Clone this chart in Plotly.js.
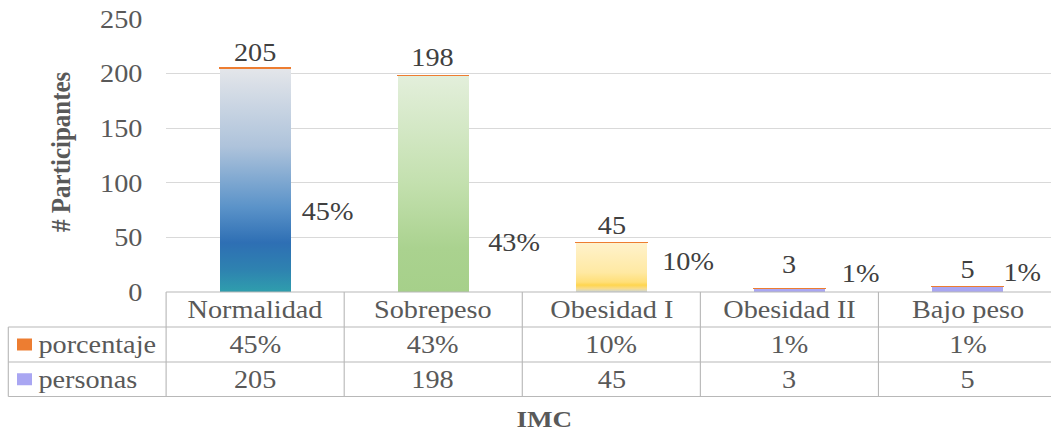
<!DOCTYPE html>
<html>
<head>
<meta charset="utf-8">
<script src="https://cdn.plot.ly/plotly-3.0.1.min.js"></script>
<style>
  html, body { margin: 0; padding: 0; overflow: hidden; background: #fff; }
  #wrap { width: 1051px; height: 434px; overflow: hidden; }
  /* the chart is laid out narrower and stretched sideways to get the wide serif look */
  #chart { width: 935px; height: 434px; transform: scaleX(1.13); transform-origin: 0 0; }
</style>
</head>
<body>
<div id="wrap"><div id="chart"></div></div>
<script>
// ---- data ----
const categories = ['Normalidad', 'Sobrepeso', 'Obesidad I', 'Obesidad II', 'Bajo peso'];
const personas   = [205, 198, 45, 3, 5];
const porcentaje = [0.45, 0.43, 0.10, 0.01, 0.01];
const yTicks     = [0, 50, 100, 150, 200, 250];
const seriesNames = ['porcentaje', 'personas'];

// ---- look ----
const FAMILY = 'Liberation Serif';
const GREY = '#595959';
const DARK = '#404040';
const LINE = '#b8b8b8';
const ORANGE = '#ed7d31';
const LAVENDER = '#a9a6f2';
const font = (size, color, weight) => ({ family: FAMILY, size: size, color: color, weight: weight || 'normal' });

// vertical gradients for each column (offset, colour), top to bottom
const barFills = [
  [[0, '#e4e6ea'], [0.35, '#aec3db'], [0.62, '#5b93c9'], [0.78, '#2e6fb4'], [0.9, '#2e82b0'], [1, '#2f9ead']],
  [[0, '#e3efdb'], [0.5, '#c3e0ae'], [0.8, '#aad28f'], [1, '#a6d08a']],
  [[0, '#fff2cc'], [0.6, '#ffe9a3'], [0.8, '#ffdf78'], [0.86, '#ffd54f'], [0.93, '#f8dc8a'], [1, '#c9d5dc']],
  [[0, LAVENDER], [1, LAVENDER]],
  [[0, LAVENDER], [1, LAVENDER]]
];

// where the percentage labels sit: offset from the column centre (category units) and height (axis units)
const pctLabelAt = [
  { dx: 0.407, y: 74 },
  { dx: 0.457, y: 45 },
  { dx: 0.429, y: 27.5 },
  { dx: 0.401, y: 17.4 },
  { dx: 0.306, y: 18.3 }
];
const countLabelShift = [0, 2, 2, 9, 2];

// ---- geometry ----
const W = 935, H = 434;
const M = { l: 147, r: 0, t: 19, b: 142 };
const plotW = W - M.l - M.r, plotH = H - M.t - M.b;
const sx = 1.13; // horizontal stretch applied by CSS
const px = x => (x / sx - M.l) / plotW;     // page x -> paper x
const py = y => (H - M.b - y) / plotH;      // page y -> paper y

const rowsY = [292, 327, 362, 396.5];       // table row borders (page y)
const tableLeft = 8.3;

const pct = v => Math.round(v * 100) + '%';

const traces = [
  {
    type: 'bar', name: seriesNames[1], x: categories, y: personas,
    marker: { color: LAVENDER, line: { width: 0 } }, width: 0.4, hoverinfo: 'skip'
  },
  {
    type: 'bar', name: seriesNames[0], x: categories, y: porcentaje,
    marker: { color: ORANGE, line: { color: ORANGE, width: 1 } }, width: 0.4, hoverinfo: 'skip'
  }
];

const shapes = [];
const annotations = [];

// table horizontal lines
shapes.push({ type: 'line', xref: 'paper', yref: 'paper', x0: 0, x1: 1.02, y0: py(rowsY[0]), y1: py(rowsY[0]), line: { color: LINE, width: 1 } });
for (let r = 1; r < rowsY.length; r++) {
  shapes.push({ type: 'line', xref: 'paper', yref: 'paper', x0: px(tableLeft), x1: 1.02, y0: py(rowsY[r]), y1: py(rowsY[r]), line: { color: LINE, width: 1 } });
}
// table vertical lines
shapes.push({ type: 'line', xref: 'paper', yref: 'paper', x0: px(tableLeft), x1: px(tableLeft), y0: py(rowsY[1]), y1: py(rowsY[3]), line: { color: LINE, width: 1 } });
shapes.push({ type: 'line', xref: 'paper', yref: 'paper', x0: 0, x1: 0, y0: py(rowsY[0]), y1: py(rowsY[3]), line: { color: LINE, width: 1 } });
categories.forEach((c, i) => {
  shapes.push({ type: 'line', xref: 'x', yref: 'paper', x0: i + 0.5, x1: i + 0.5, y0: py(rowsY[0]), y1: py(rowsY[3]), line: { color: LINE, width: 1 } });
});

const rowMid = r => py((rowsY[r] + rowsY[r + 1]) / 2);

categories.forEach((c, i) => {
  annotations.push({ xref: 'x', yref: 'paper', x: i, y: rowMid(0), text: c, showarrow: false, font: font(25, GREY), xanchor: 'center', yanchor: 'middle' });
  annotations.push({ xref: 'x', yref: 'paper', x: i, y: rowMid(1), text: pct(porcentaje[i]), showarrow: false, font: font(25, GREY), xanchor: 'center', yanchor: 'middle' });
  annotations.push({ xref: 'x', yref: 'paper', x: i, y: rowMid(2), text: String(personas[i]), showarrow: false, font: font(25, GREY), xanchor: 'center', yanchor: 'middle' });

  // count above each column
  annotations.push({
    xref: 'x', yref: 'y', x: i, y: personas[i] + porcentaje[i], text: String(personas[i]),
    showarrow: false, font: font(25, DARK), xanchor: 'center', yanchor: 'bottom', yshift: countLabelShift[i]
  });
  // percentage beside each column
  annotations.push({
    xref: 'x', yref: 'y', x: i + pctLabelAt[i].dx, y: pctLabelAt[i].y, text: pct(porcentaje[i]),
    showarrow: false, font: font(25, DARK), xanchor: 'center', yanchor: 'middle'
  });
});

// legend keys inside the table
[[ORANGE, 1, seriesNames[0]], [LAVENDER, 2, seriesNames[1]]].forEach(([col, r, label]) => {
  const mid = (rowsY[r] + rowsY[r + 1]) / 2;
  shapes.push({ type: 'rect', xref: 'paper', yref: 'paper', x0: px(17), x1: px(32), y0: py(mid - 6), y1: py(mid + 6), fillcolor: col, line: { width: 0 } });
  annotations.push({ xref: 'paper', yref: 'paper', x: px(36), y: py(mid), text: label, showarrow: false, font: font(25, GREY), xanchor: 'left', yanchor: 'middle' });
});

// axis titles
annotations.push({ xref: 'paper', yref: 'paper', x: px(61), y: py(151), text: '# Participantes', textangle: -90, showarrow: false,
  font: font(25, GREY, 'bold'), xanchor: 'center', yanchor: 'middle' });
annotations.push({ xref: 'paper', yref: 'paper', x: px(544), y: py(419), text: 'IMC', showarrow: false,
  font: font(24, GREY, 'bold'), xanchor: 'center', yanchor: 'middle' });

const layout = {
  width: W, height: H,
  margin: M,
  paper_bgcolor: '#fff', plot_bgcolor: '#fff',
  barmode: 'stack', bargap: 0.6,
  showlegend: false,
  font: font(25, GREY),
  xaxis: { type: 'category', range: [-0.5, 4.5], showticklabels: false, showgrid: false, zeroline: false, showline: false, fixedrange: true },
  yaxis: {
    range: [0, 250], tickvals: yTicks, ticktext: yTicks.map(String), ticks: '',
    showgrid: true, gridcolor: '#d9d9d9', gridwidth: 1, zeroline: false, showline: false,
    tickfont: font(25, GREY), ticklabelstandoff: 20, fixedrange: true
  },
  shapes: shapes,
  annotations: annotations
};

Plotly.newPlot('chart', traces, layout, { staticPlot: true, displayModeBar: false }).then(gd => {
  const ns = 'http://www.w3.org/2000/svg';
  const svg = gd.querySelector('svg.main-svg');
  let defs = svg.querySelector('defs');
  if (!defs) { defs = document.createElementNS(ns, 'defs'); svg.insertBefore(defs, svg.firstChild); }
  barFills.forEach((stops, i) => {
    const g = document.createElementNS(ns, 'linearGradient');
    g.setAttribute('id', 'colfill' + i);
    g.setAttribute('x1', '0'); g.setAttribute('y1', '0');
    g.setAttribute('x2', '0'); g.setAttribute('y2', '1');
    stops.forEach(([o, c]) => {
      const s = document.createElementNS(ns, 'stop');
      s.setAttribute('offset', o);
      s.setAttribute('stop-color', c);
      g.appendChild(s);
    });
    defs.appendChild(g);
  });
  const bottom = gd.querySelectorAll('.barlayer .trace')[0];
  bottom.querySelectorAll('.point path').forEach((p, i) => { p.style.fill = 'url(#colfill' + i + ')'; });
});
</script>
</body>
</html>
